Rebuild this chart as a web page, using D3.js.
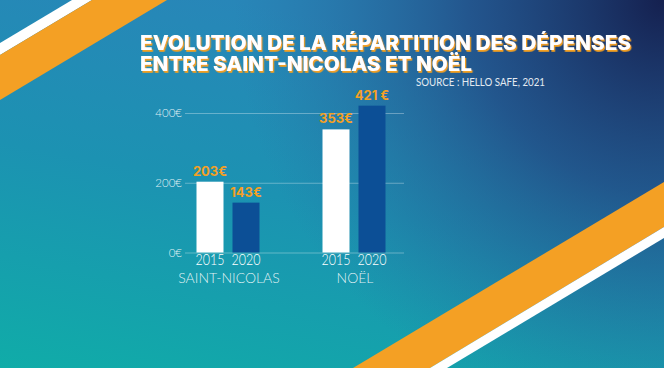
<!DOCTYPE html>
<html>
<head>
<meta charset="utf-8">
<script src="https://cdn.jsdelivr.net/npm/d3@7"></script>
<style>
  html, body { margin: 0; padding: 0; overflow: hidden; background: #1e7fb0; }
  svg { display: block; }
</style>
</head>
<body>
<div id="chart"></div>
<script>
const width = 664;
const height = 368;

// Données
const groups = ["SAINT-NICOLAS", "NOËL"];
const years = ["2015", "2020"];
const values2015 = [203, 353];
const values2020 = [143, 421];
const labels2015 = ["203€", "353€"];
const labels2020 = ["143€", "421 €"];
const yTicks = [0, 200, 400];
const titleLines = ["EVOLUTION DE LA RÉPARTITION DES DÉPENSES", "ENTRE SAINT-NICOLAS ET NOËL"];
const source = "SOURCE : HELLO SAFE, 2021";

const orange = "#f4a024";
const darkBar = "#0c4f96";

const svg = d3.select("#chart").append("svg")
    .attr("width", width)
    .attr("height", height);

const defs = svg.append("defs");

// Fond dégradé
const base = defs.append("linearGradient")
    .attr("id", "bg")
    .attr("x1", 0).attr("y1", 1)
    .attr("x2", 0.35).attr("y2", 0);
base.append("stop").attr("offset", 0).attr("stop-color", "#10aca8");
base.append("stop").attr("offset", 0.55).attr("stop-color", "#1c92b2");
base.append("stop").attr("offset", 1).attr("stop-color", "#2886b8");

const dark = defs.append("radialGradient")
    .attr("id", "dark")
    .attr("gradientUnits", "userSpaceOnUse")
    .attr("cx", 664).attr("cy", 0).attr("r", 430);
dark.append("stop").attr("offset", 0).attr("stop-color", "#15204f").attr("stop-opacity", 1);
dark.append("stop").attr("offset", 0.45).attr("stop-color", "#21457f").attr("stop-opacity", 0.75);
dark.append("stop").attr("offset", 1).attr("stop-color", "#2a6aa0").attr("stop-opacity", 0);

// Ombre orange du titre
defs.append("filter")
    .attr("id", "shadow")
    .attr("x", "-5%").attr("y", "-20%").attr("width", "110%").attr("height", "140%")
    .append("feDropShadow")
    .attr("dx", 1.3).attr("dy", 1.8)
    .attr("stdDeviation", 0.2)
    .attr("flood-color", orange)
    .attr("flood-opacity", 1);

svg.append("rect").attr("width", width).attr("height", height).attr("fill", "url(#bg)");
svg.append("rect").attr("width", width).attr("height", height).attr("fill", "url(#dark)");

// Bandes décoratives
const deco = svg.append("g");
deco.append("polygon").attr("points", "0,43 72,0 92,0 0,55").attr("fill", "#ffffff");
deco.append("polygon").attr("points", "0,55 92,0 167,0 0,100").attr("fill", orange);
deco.append("polygon").attr("points", "664,182 664,227 430,368 353,368").attr("fill", orange);
deco.append("polygon").attr("points", "664,227 664,238 447,368 430,368").attr("fill", "#ffffff");

// Titre
const titleY = [50, 71];
const titleLen = [491, 332];
const title = svg.append("text")
    .attr("font-family", "Inter, 'Open Sans', sans-serif")
    .attr("font-weight", 800)
    .attr("font-size", 20)
    .attr("fill", "#ffffff")
    .attr("filter", "url(#shadow)");
title.selectAll("tspan")
    .data(titleLines)
    .enter().append("tspan")
    .attr("x", 140)
    .attr("y", (d, i) => titleY[i])
    .attr("textLength", (d, i) => titleLen[i])
    .attr("lengthAdjust", "spacingAndGlyphs")
    .text(d => d);

svg.append("text")
    .attr("x", 416).attr("y", 86)
    .attr("font-family", "Lato, 'Open Sans', sans-serif")
    .attr("font-size", 10.5)
    .attr("fill", "#e3eaf1")
    .attr("textLength", 129)
    .attr("lengthAdjust", "spacingAndGlyphs")
    .text(source);

// Échelles
const y = d3.scaleLinear().domain([0, 400]).range([252.5, 113]);
const x0 = d3.scaleBand().domain(groups).range([165, 417]).padding(0);
const x1 = d3.scaleBand().domain(years).range([0, x0.bandwidth()])
    .paddingInner(0.25).paddingOuter(0.875);

// Axe et grille
const axis = svg.append("g")
    .attr("transform", "translate(185,0)")
    .call(d3.axisLeft(y).tickValues(yTicks).tickSize(-219).tickPadding(3).tickFormat(d => d + "€"));
axis.select(".domain").remove();
axis.selectAll(".tick line").attr("stroke", "rgba(255,255,255,0.32)");
axis.selectAll(".tick text")
    .attr("fill", "rgba(255,255,255,0.88)")
    .attr("font-family", "Lato, 'Open Sans', sans-serif")
    .attr("font-weight", 300)
    .attr("font-size", 11.5);

// Barres
const rows = groups.map((g, i) => ({
    group: g,
    bars: [
        { year: years[0], value: values2015[i], label: labels2015[i], fill: "#ffffff" },
        { year: years[1], value: values2020[i], label: labels2020[i], fill: darkBar }
    ]
}));

const group = svg.selectAll(".group")
    .data(rows)
    .enter().append("g")
    .attr("class", "group")
    .attr("transform", d => `translate(${x0(d.group)},0)`);

const bar = group.selectAll(".bar")
    .data(d => d.bars)
    .enter().append("g")
    .attr("class", "bar");

bar.append("rect")
    .attr("x", d => x1(d.year))
    .attr("y", d => y(d.value))
    .attr("width", x1.bandwidth())
    .attr("height", d => y(0) - y(d.value))
    .attr("fill", d => d.fill);

bar.append("text")
    .attr("x", d => x1(d.year) + x1.bandwidth() / 2)
    .attr("y", d => y(d.value) - 6)
    .attr("text-anchor", "middle")
    .attr("font-family", "Inter, 'Open Sans', sans-serif")
    .attr("font-weight", 700)
    .attr("font-size", 13)
    .attr("fill", orange)
    .text(d => d.label);

bar.append("text")
    .attr("x", d => x1(d.year) + x1.bandwidth() / 2 - 14.5)
    .attr("y", 265)
    .attr("font-family", "Lato, 'Open Sans', sans-serif")
    .attr("font-weight", 300)
    .attr("font-size", 15)
    .attr("fill", "#ffffff")
    .attr("textLength", 29)
    .attr("lengthAdjust", "spacingAndGlyphs")
    .text(d => d.year);

group.append("text")
    .attr("x", x0.bandwidth() / 2 + 1)
    .attr("y", 283)
    .attr("text-anchor", "middle")
    .attr("font-family", "Lato, 'Open Sans', sans-serif")
    .attr("font-weight", 300)
    .attr("font-size", 14)
    .attr("fill", "rgba(255,255,255,0.88)")
    .text(d => d.group);
</script>
</body>
</html>
